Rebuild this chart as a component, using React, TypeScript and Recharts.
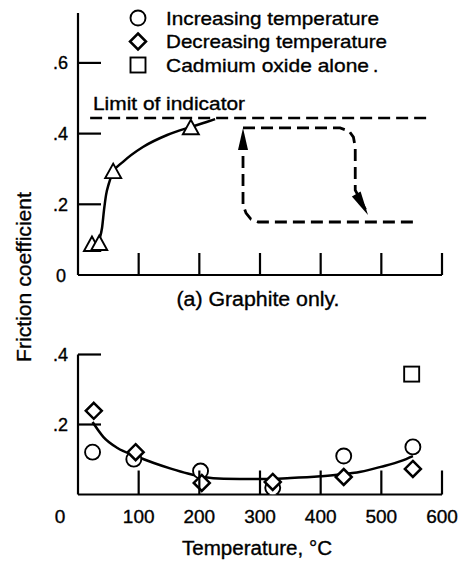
import React from 'react';
import { ComposedChart, Line, Scatter, XAxis, YAxis, Customized } from 'recharts';

// ---------- data ----------
const xTicksTop = [100, 200, 300, 400, 500, 600];
const xTicksBottom = [0, 100, 200, 300, 400, 500, 600];
const xTickLabels = ['0', '100', '200', '300', '400', '500', '600'];
const yTicksTop = [0, 0.2, 0.4, 0.6];
const yTickLabelsTop = ['0', '.2', '.4', '.6'];
const yTicksBottom = [0.2, 0.4];
const yTickLabelsBottom = ['.2', '.4'];

// (a) Graphite only
const graphiteTriangles = [
  { x: 23, y: 0.085 },
  { x: 35, y: 0.0875 },
  { x: 58, y: 0.291 },
  { x: 186, y: 0.415 },
];
const graphiteCurve = [
  { x: 36, y: 0.105 },
  { x: 39.6, y: 0.133 },
  { x: 42.9, y: 0.184 },
  { x: 46.2, y: 0.226 },
  { x: 51.1, y: 0.26 },
  { x: 57.7, y: 0.291 },
  { x: 74.2, y: 0.32 },
  { x: 107, y: 0.362 },
  { x: 147, y: 0.396 },
  { x: 186, y: 0.419 },
  { x: 212, y: 0.433 },
  { x: 226, y: 0.441 },
];
const limitLine = [
  { x: 20, y: 0.444 },
  { x: 580, y: 0.444 },
];
const loopUp = [
  { x: 552, y: 0.15 },
  { x: 297, y: 0.15 },
  { x: 285, y: 0.158 },
  { x: 277, y: 0.175 },
  { x: 272, y: 0.198 },
  { x: 272, y: 0.4 },
];
const loopDown = [
  { x: 272, y: 0.416 },
  { x: 432, y: 0.416 },
  { x: 447, y: 0.407 },
  { x: 454, y: 0.39 },
  { x: 457, y: 0.362 },
  { x: 457, y: 0.24 },
  { x: 474, y: 0.185 },
];
const arrowUpTip = [{ x: 272, y: 0.416 }];
const arrowDownTip = [{ x: 478, y: 0.17 }];

// (b) bottom panel
const increasingTemp = [
  { x: 24, y: 0.121 },
  { x: 92, y: 0.101 },
  { x: 202, y: 0.067 },
  { x: 321, y: 0.019 },
  { x: 438, y: 0.11 },
  { x: 552, y: 0.136 },
];
const decreasingTemp = [
  { x: 26, y: 0.239 },
  { x: 95, y: 0.121 },
  { x: 204, y: 0.033 },
  { x: 321, y: 0.036 },
  { x: 438, y: 0.05 },
  { x: 552, y: 0.073 },
];
const cadmiumOxide = [{ x: 550, y: 0.344 }];
const fitCurve = [
  { x: 24, y: 0.207 },
  { x: 42, y: 0.164 },
  { x: 65, y: 0.133 },
  { x: 95, y: 0.11 },
  { x: 125, y: 0.09 },
  { x: 153, y: 0.074 },
  { x: 181, y: 0.06 },
  { x: 207, y: 0.05 },
  { x: 240, y: 0.045 },
  { x: 296, y: 0.044 },
  { x: 350, y: 0.047 },
  { x: 400, y: 0.052 },
  { x: 433, y: 0.057 },
  { x: 466, y: 0.065 },
  { x: 499, y: 0.079 },
  { x: 533, y: 0.096 },
  { x: 552, y: 0.11 },
];

const legendLabels = ['Increasing temperature', 'Decreasing temperature', 'Cadmium oxide alone'];

// ---------- styles ----------
const FONT = '"Liberation Sans", Arial, Helvetica, sans-serif';
const INK = '#000';
const TXT = { fontFamily: FONT, fill: INK, stroke: INK, strokeWidth: 0.35 };

// ---------- marker shapes ----------
const CircleMark = (p: any) => (
  <circle cx={p.cx} cy={p.cy} r={7.5} fill="#fff" stroke={INK} strokeWidth={1.9} />
);
const DiamondMark = (p: any) => {
  const { cx, cy } = p;
  const r = 8;
  return (
    <polygon
      points={`${cx},${cy - r} ${cx + r},${cy} ${cx},${cy + r} ${cx - r},${cy}`}
      fill="#fff"
      stroke={INK}
      strokeWidth={2.5}
      strokeLinejoin="miter"
    />
  );
};
const SquareMark = (p: any) => (
  <rect x={p.cx - 7.5} y={p.cy - 7.5} width={15} height={15} fill="#fff" stroke={INK} strokeWidth={1.9} />
);
const TriangleMark = (p: any) => {
  const { cx, cy } = p;
  return (
    <polygon
      points={`${cx},${cy - 8.5} ${cx + 8},${cy + 6} ${cx - 8},${cy + 6}`}
      fill="#fff"
      stroke={INK}
      strokeWidth={1.9}
    />
  );
};
const ArrowUpMark = (p: any) => {
  const { cx, cy } = p;
  return <polygon points={`${cx},${cy} ${cx + 5},${cy + 22} ${cx - 5},${cy + 22}`} fill={INK} />;
};
const ArrowDownMark = (p: any) => {
  const { cx, cy } = p;
  const dx = 0.49;
  const dy = 0.87;
  const L = 24;
  const hw = 5;
  const bx = cx - L * dx;
  const by = cy - L * dy;
  return (
    <polygon
      points={`${cx},${cy} ${bx - hw * dy},${by + hw * dx} ${bx + hw * dy},${by - hw * dx}`}
      fill={INK}
    />
  );
};

// ---------- ticks ----------
const TopXTick = (p: any) => {
  const { x, y } = p;
  return <line x1={x} y1={y} x2={x} y2={y - 22} stroke={INK} strokeWidth={2.2} />;
};
const BottomXTick = (p: any) => {
  const { x, y, payload } = p;
  const i = xTicksBottom.indexOf(payload.value);
  const label = xTickLabels[i];
  const isZero = payload.value === 0;
  return (
    <g>
      {!isZero && <line x1={x} y1={y} x2={x} y2={y - 24} stroke={INK} strokeWidth={2.2} />}
      <text x={isZero ? x - 18 : x} y={y + 28.5} textAnchor="middle" fontSize={19} {...TXT}>
        {label}
      </text>
    </g>
  );
};
const makeYTick = (ticks: number[], labels: string[]) => (p: any) => {
  const { x, y, payload } = p;
  const i = ticks.indexOf(payload.value);
  const label = labels[i];
  const isZero = payload.value === 0;
  return (
    <g>
      {!isZero && <line x1={x} y1={y} x2={x + 23} y2={y} stroke={INK} strokeWidth={2.2} />}
      <text x={isZero ? x - 12 : x - 10} y={y + 6.5} textAnchor="end" fontSize={18} {...TXT}>
        {label}
      </text>
    </g>
  );
};
const TopYTick = makeYTick(yTicksTop, yTickLabelsTop);
const BottomYTick = makeYTick(yTicksBottom, yTickLabelsBottom);

// ---------- decorations ----------
const TopDecor = () => {
  const marks = [CircleMark, DiamondMark, SquareMark];
  const widths = [213, 221, 203];
  return (
    <g>
      {legendLabels.map((lab, i) => {
        const M = marks[i];
        const cy = 18 + i * 23.5;
        return (
          <g key={lab}>
            <M cx={138} cy={cy} />
            <text x={166} y={cy + 6.8} fontSize={19} {...TXT} textLength={widths[i]} lengthAdjust="spacingAndGlyphs">
              {lab}
            </text>
          </g>
        );
      })}
      <text x={373} y={72} fontSize={19} {...TXT}>.</text>
      <text x={93} y={110} fontSize={18} {...TXT} textLength={152} lengthAdjust="spacingAndGlyphs">
        Limit of indicator
      </text>
      <text x={258} y={306} textAnchor="middle" fontSize={20} {...TXT} textLength={163} lengthAdjust="spacingAndGlyphs">
        (a) Graphite only.
      </text>
    </g>
  );
};

const BottomDecor = () => (
  <g>
    <text x={257} y={555} textAnchor="middle" fontSize={20} {...TXT} textLength={150} lengthAdjust="spacingAndGlyphs">
      Temperature, °C
    </text>
    <text
      x={31}
      y={277}
      textAnchor="middle"
      fontSize={21}
      {...TXT}
      transform="rotate(-90 31 277)"
      textLength={170}
      lengthAdjust="spacingAndGlyphs"
    >
      Friction coefficient
    </text>
  </g>
);

const axisLineStyle = { stroke: INK, strokeWidth: 2.2 };

export default function App() {
  return (
    <div style={{ position: 'absolute', left: 0, top: 0, width: 466, height: 566, background: '#fff' }}>
      <div style={{ position: 'absolute', left: 0, top: 0 }}>
        <ComposedChart width={466} height={566} margin={{ top: 13, right: 24, bottom: 266, left: 0 }}>
          <XAxis
            type="number"
            dataKey="x"
            domain={[0, 600]}
            ticks={xTicksTop}
            interval={0}
            height={25}
            tickSize={0}
            tickMargin={0}
            tickLine={false}
            axisLine={axisLineStyle}
            tick={TopXTick}
            allowDataOverflow
          />
          <YAxis
            type="number"
            dataKey="y"
            domain={[0, 0.7412]}
            ticks={yTicksTop}
            interval={0}
            width={78}
            tickSize={0}
            tickMargin={0}
            tickLine={false}
            axisLine={axisLineStyle}
            tick={TopYTick}
            allowDataOverflow
          />
          <Line data={limitLine} dataKey="y" type="linear" stroke={INK} strokeWidth={2.5} strokeDasharray="12 6" dot={false} activeDot={false} isAnimationActive={false} />
          <Line data={loopUp} dataKey="y" type="linear" stroke={INK} strokeWidth={2.8} strokeDasharray="12 6" dot={false} activeDot={false} isAnimationActive={false} />
          <Line data={loopDown} dataKey="y" type="linear" stroke={INK} strokeWidth={2.8} strokeDasharray="12 6" dot={false} activeDot={false} isAnimationActive={false} />
          <Line data={graphiteCurve} dataKey="y" type="monotone" stroke={INK} strokeWidth={2.5} dot={false} activeDot={false} isAnimationActive={false} />
          <Scatter data={arrowUpTip} shape={ArrowUpMark} isAnimationActive={false} />
          <Scatter data={arrowDownTip} shape={ArrowDownMark} isAnimationActive={false} />
          <Scatter data={graphiteTriangles} shape={TriangleMark} isAnimationActive={false} />
          <Customized component={TopDecor} />
        </ComposedChart>
      </div>
      <div style={{ position: 'absolute', left: 0, top: 0 }}>
        <ComposedChart width={466} height={566} margin={{ top: 354.5, right: 24, bottom: 0, left: 0 }}>
          <XAxis
            type="number"
            dataKey="x"
            domain={[0, 600]}
            ticks={xTicksBottom}
            interval={0}
            height={71.5}
            tickSize={0}
            tickMargin={0}
            tickLine={false}
            axisLine={axisLineStyle}
            tick={BottomXTick}
            allowDataOverflow
          />
          <YAxis
            type="number"
            dataKey="y"
            domain={[0, 0.4]}
            ticks={yTicksBottom}
            interval={0}
            width={78}
            tickSize={0}
            tickMargin={0}
            tickLine={false}
            axisLine={axisLineStyle}
            tick={BottomYTick}
            allowDataOverflow
          />
          <Line data={fitCurve} dataKey="y" type="monotone" stroke={INK} strokeWidth={2.5} dot={false} activeDot={false} isAnimationActive={false} />
          <Scatter data={increasingTemp} shape={CircleMark} isAnimationActive={false} />
          <Scatter data={decreasingTemp} shape={DiamondMark} isAnimationActive={false} />
          <Scatter data={cadmiumOxide} shape={SquareMark} isAnimationActive={false} />
          <Customized component={BottomDecor} />
        </ComposedChart>
      </div>
    </div>
  );
}
